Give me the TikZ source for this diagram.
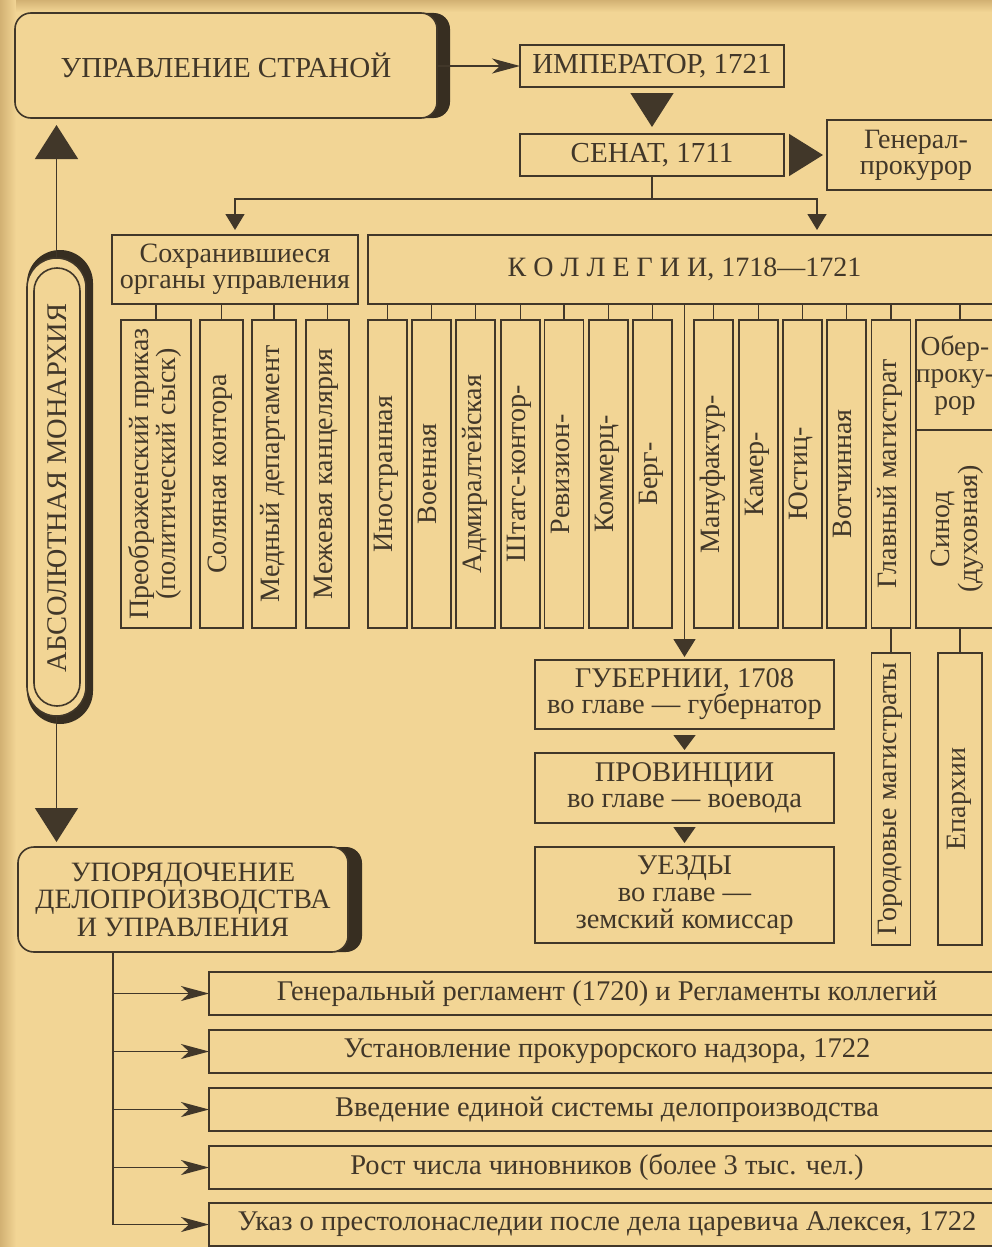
\documentclass[tikz,border=0pt]{standalone}
\usepackage{fontspec}
\setmainfont{Liberation Serif}
\usetikzlibrary{arrows.meta}
\definecolor{paper}{HTML}{F2D595}
\definecolor{edge}{HTML}{D2B173}
\definecolor{ink}{HTML}{413729}
\definecolor{shd}{HTML}{372E21}
\newcommand{\myfs}[2]{\fontsize{#1}{#2}\selectfont}
\newcommand{\vt}[1]{\rotatebox{90}{\begin{tabular}{@{}c@{}}#1\end{tabular}}}
\begin{document}
\begin{tikzpicture}[x=1pt,y=-1pt,
  line/.style={draw=ink, line width=1.6pt},
  box/.style={draw=ink, line width=1.6pt, rectangle, inner sep=0pt, outer sep=0pt,
     text=ink, align=center, font=\myfs{28.5}{26}},
  rbox/.style={box, fill=paper, rounded corners=16pt},
  vbox/.style={box, font=\myfs{28}{27}, minimum height=308, minimum width=39},
  gbox/.style={box, font=\myfs{28.5}{26}, minimum width=299},
  bbox/.style={box, font=\myfs{28.5}{28}, minimum width=796, minimum height=43},
  bigtri/.style={line, -{Triangle[length=34pt,width=43pt]}},
  smalltri/.style={line, -{Triangle[length=16pt,width=19pt]}},
  stl/.style={line, -{Stealth[length=28pt,width=15pt,inset=8pt]}},
]
\useasboundingbox (0,0) rectangle (992,1247);
\clip (0,0) rectangle (992,1247);
\fill[paper] (0,0) rectangle (992,1247);
\shade[left color=edge, right color=paper] (0,0) rectangle (16,1247);
\shade[top color=edge, bottom color=paper] (16,0) rectangle (992,12);

% ---- shadows of rounded boxes
\fill[shd, rounded corners=16pt] (15,13) rectangle (450,118);
\fill[shd, rounded corners=16pt] (18,847) rectangle (362,952);
\fill[shd, rounded corners=33pt] (27,250) rectangle (93,724);

% ---- top part
\node[rbox, font=\myfs{29}{26}, minimum width=422, minimum height=105] (upr) at (226,65.5) {УПРАВЛЕНИЕ СТРАНОЙ};
\node[box, font=\myfs{29}{26}, minimum width=264, minimum height=42] (imp) at (652,66) {ИМПЕРАТОР, 1721};
\node[box, font=\myfs{29}{26}, minimum width=264, minimum height=42] (sen) at (652,155) {СЕНАТ, 1711};
\node[box, font=\myfs{28}{26}, minimum width=178, minimum height=70] (gp) at (916,155) {Генерал-\\прокурор};

\node[box, font=\myfs{28}{26}, minimum width=246, minimum height=69] (sohr) at (235,269.5) {Сохранившиеся\\органы управления};
\node[box, font=\myfs{28}{26}, minimum width=633, minimum height=69] (koll) at (684.5,269.5) {К О Л Л Е Г И И, 1718—1721};

% ---- vertical boxes
\node[vbox, minimum width=70] (p1) at (156,474) {\vt{Преображенский приказ\\(политический сыск)}};
\node[vbox, minimum width=43] (p2) at (221.5,474) {\vt{Соляная контора}};
\node[vbox, minimum width=44] (p3) at (274,474) {\vt{Медный департамент}};
\node[vbox, minimum width=43] (p4) at (327.5,474) {\vt{Межевая канцелярия}};

\node[vbox] (c1) at (387.5,474) {\vt{Иностранная}};
\node[vbox] (c2) at (431.5,474) {\vt{Военная}};
\node[vbox] (c3) at (475.5,474) {\vt{Адмиралтейская}};
\node[vbox] (c4) at (520.5,474) {\vt{Штатс-контор-}};
\node[vbox] (c5) at (564,474) {\vt{Ревизион-}};
\node[vbox] (c6) at (608.5,474) {\vt{Коммерц-}};
\node[vbox] (c7) at (652.5,474) {\vt{Берг-}};
\node[vbox] (c8) at (713.5,474) {\vt{Мануфактур-}};
\node[vbox] (c9) at (758.5,474) {\vt{Камер-}};
\node[vbox] (c10) at (802.5,474) {\vt{Юстиц-}};
\node[vbox] (c11) at (846.5,474) {\vt{Вотчинная}};
\node[vbox] (c12) at (891,474) {\vt{Главный магистрат}};
\node[box, minimum width=84, minimum height=110] (ober) at (958,375) {};
\node[text=ink, align=center, inner sep=0pt, font=\myfs{27.5}{27}] (oberlab) at (955,376) {Обер-\\проку-\\рор};
\node[box, font=\myfs{28}{27}, minimum width=84, minimum height=198] (synod) at (958,529) {\vt{Синод\\(духовная)}};

% ---- local government
\node[gbox, minimum height=69] (gub) at (684.5,694.5) {ГУБЕРНИИ, 1708\\во главе — губернатор};
\node[gbox, minimum height=70] (prov) at (684.5,788) {ПРОВИНЦИИ\\во главе — воевода};
\node[gbox, font=\myfs{28.5}{27}, minimum height=96] (uezd) at (684.5,895) {УЕЗДЫ\\во главе —\\земский комиссар};
\node[vbox, minimum height=292] (gorod) at (891,799) {\vt{Городовые магистраты}};
\node[vbox, minimum height=292, minimum width=44] (epar) at (960,799) {\vt{Епархии}};

% ---- left capsule
\node[rbox, rounded corners=29.5pt, minimum width=59, minimum height=458] (mon) at (56.5,487) {};
\draw[line, rounded corners=23pt] (34,268) rectangle (80,706);
\node[text=ink, font=\myfs{28.5}{27}, rotate=90] (monlab) at (57,488) {АБСОЛЮТНАЯ МОНАРХИЯ};

% ---- ordering
\node[rbox, font=\myfs{28}{27.5}, minimum width=330, minimum height=105] (upord) at (183,899.5)
  {УПОРЯДОЧЕНИЕ\\ДЕЛОПРОИЗВОДСТВА\\И УПРАВЛЕНИЯ};
\node[bbox] (b1) at (607,993.5) {Генеральный регламент (1720) и Регламенты коллегий};
\node[bbox] (b2) at (607,1051.5) {Установление прокурорского надзора, 1722};
\node[bbox] (b3) at (607,1109.5) {Введение единой системы делопроизводства};
\node[bbox] (b4) at (607,1167.5) {Рост числа чиновников (более 3 тыс. чел.)};
\node[bbox] (b5) at (607,1224.5) {Указ о престолонаследии после дела царевича Алексея, 1722};

% ---- connectors
\draw[stl] (upr.east |- imp.west) -- (imp.west);
\draw[bigtri, shorten <=6pt, shorten >=7pt] (imp.south) -- (sen.north);
\draw[line, -{Triangle[length=34pt,width=42pt]}, shorten <=5pt, shorten >=4pt] (sen.east) -- (gp.west);
\draw[line] (sen.south) -- ++(0,23) coordinate (split);
\coordinate (kin) at (817,235);
\draw[smalltri, shorten >=5pt] (split) -| (sohr.north);
\draw[smalltri, shorten >=5pt] (split) -| (kin);
\foreach \n in {p1,p2,p3,p4} \draw[line] (\n.north) -- (\n.north |- sohr.south);
\foreach \n in {c1,c2,c3,c4,c5,c6,c7,c8,c9,c10,c11,c12} \draw[line] (\n.north) -- (\n.north |- koll.south);
\draw[line] ([xshift=2pt]ober.north) -- ([xshift=2pt]ober.north |- koll.south);
\draw[line, -{Triangle[length=18pt,width=22pt]}, shorten >=3pt] (koll.south) -- (gub.north);
\draw[line, -{Triangle[length=15pt,width=22pt]}, shorten <=6pt, shorten >=3pt] (gub.south) -- (prov.north);
\draw[line, -{Triangle[length=16pt,width=22pt]}, shorten <=4pt, shorten >=4pt] (prov.south) -- (uezd.north);
\draw[line] (c12.south) -- (gorod.north);
\draw[line] (epar.north) -- (epar.north |- synod.south);
\draw[bigtri, shorten >=7pt] (mon.north) -- (mon.north |- upr.south);
\draw[bigtri, shorten >=5pt] (mon.south) -- (mon.south |- upord.north);
\coordinate (sp) at (113,952);
\draw[line] (sp) -- (sp |- b5.west);
\foreach \b in {b1,b2,b3,b4,b5} \draw[stl] (sp |- \b.west) -- (\b.west);
\end{tikzpicture}
\end{document}
